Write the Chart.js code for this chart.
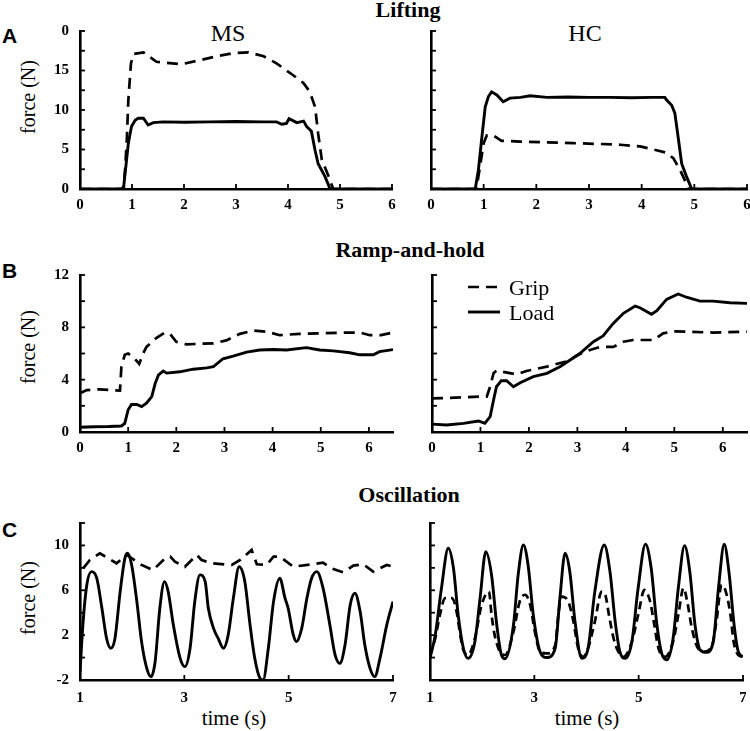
<!DOCTYPE html>
<html>
<head>
<meta charset="utf-8">
<script src="https://cdn.jsdelivr.net/npm/chart.js@4.4.1/dist/chart.umd.min.js"></script>
<style>
  body { margin: 0; width: 750px; height: 731px; background: #fff; position: relative; overflow: hidden; font-family: "Liberation Serif", serif; }
  canvas { position: absolute; }
  .t { position: absolute; white-space: nowrap; color: #000; line-height: 1; transform: translateX(-50%); }
  .head { font-weight: bold; font-size: 22px; }
  .grp { font-size: 24px; }
  .ylab { position: absolute; white-space: nowrap; font-size: 20px; line-height: 1; transform: translate(-50%, -50%) rotate(-90deg); }
  .xlab { position: absolute; white-space: nowrap; font-size: 21px; line-height: 1; transform: translate(-50%, -50%); }
  .letter { position: absolute; left: 2px; font-family: "Liberation Sans", Arial, sans-serif; font-weight: bold; font-size: 21px; line-height: 1; }
</style>
</head>
<body>
<div class="t head" style="left:408px;top:-1px">Lifting</div>
<div class="t head" style="left:410px;top:239px">Ramp-and-hold</div>
<div class="t head" style="left:409px;top:484px">Oscillation</div>
<div class="t grp" style="left:228px;top:21px">MS</div>
<div class="t grp" style="left:585px;top:21px">HC</div>
<div class="letter" style="top:25px">A</div>
<div class="letter" style="top:260px">B</div>
<div class="letter" style="top:519px">C</div>
<div class="ylab" style="left:28px;top:97px">force (N)</div>
<div class="ylab" style="left:28px;top:347px">force (N)</div>
<div class="ylab" style="left:28px;top:598px">force (N)</div>
<div class="xlab" style="left:234px;top:718px">time (s)</div>
<div class="xlab" style="left:587px;top:718px">time (s)</div>

<canvas id="aL"></canvas>
<canvas id="aR"></canvas>
<canvas id="bL"></canvas>
<canvas id="bR"></canvas>
<canvas id="cL"></canvas>
<canvas id="cR"></canvas>

<script>
// ---- A: lifting ----
const liftMsLoadT = [0, 0.5, 0.8, 0.84, 0.93, 0.99, 1.06, 1.12, 1.22, 1.31, 1.41, 1.6, 2.0, 2.5, 3.0, 3.5, 3.78, 3.88, 3.97, 4.02, 4.17, 4.3, 4.36, 4.45, 4.52, 4.58, 4.71, 4.81, 5.2, 6];
const liftMsLoad  = [0, 0, 0, 0.3, 5.8, 7.9, 8.7, 8.95, 8.95, 8.1, 8.4, 8.5, 8.45, 8.5, 8.55, 8.5, 8.5, 8.2, 8.3, 8.9, 8.4, 8.6, 7.9, 7.3, 4.9, 3.2, 1.6, 0, 0, 0];
const liftMsGripT = [0, 0.5, 0.84, 0.87, 0.9, 0.93, 0.98, 1.03, 1.22, 1.47, 1.96, 2.3, 2.63, 2.95, 3.24, 3.53, 3.78, 4.1, 4.3, 4.42, 4.52, 4.58, 4.65, 4.78, 4.87, 5.3, 6];
const liftMsGrip  = [0, 0, 0, 2.8, 6.2, 11.3, 15.9, 17.1, 17.3, 16.1, 15.8, 16.3, 16.8, 17.2, 17.3, 16.8, 15.9, 14.4, 13.4, 12.3, 10.4, 7.0, 3.7, 1.6, 0, 0, 0];
const liftHcLoadT = [0, 0.5, 0.84, 0.9, 0.96, 1.03, 1.09, 1.15, 1.25, 1.37, 1.5, 1.7, 1.88, 2.2, 2.6, 3.0, 3.4, 3.8, 4.2, 4.44, 4.47, 4.57, 4.63, 4.7, 4.76, 4.85, 4.95, 5.3, 6];
const liftHcLoad  = [0, 0, 0, 2.4, 6.2, 10.4, 11.7, 12.3, 11.9, 11.05, 11.5, 11.6, 11.8, 11.6, 11.65, 11.6, 11.6, 11.55, 11.6, 11.6, 11.3, 10.6, 9.6, 6.2, 3.2, 1.6, 0, 0, 0];
const liftHcGripT = [0, 0.5, 0.86, 0.93, 1.0, 1.06, 1.18, 1.34, 1.69, 2.2, 2.7, 3.2, 3.59, 3.97, 4.28, 4.47, 4.6, 4.73, 4.82, 4.89, 5.3, 6];
const liftHcGrip  = [0, 0, 0, 2.8, 5.8, 6.8, 6.8, 6.1, 6.0, 5.9, 5.8, 5.7, 5.6, 5.4, 4.9, 4.6, 3.9, 2.4, 1.1, 0, 0, 0];

// ---- B: ramp-and-hold ----
const rampMsGripT = [0, 0.14, 0.4, 0.83, 0.86, 0.93, 1.0, 1.1, 1.23, 1.31, 1.38, 1.59, 1.76, 1.87, 2.0, 2.21, 2.77, 3.04, 3.32, 3.6, 3.87, 4.15, 4.56, 4.98, 5.53, 5.81, 6.02, 6.25, 6.5];
const rampMsGrip  = [2.96, 3.2, 3.26, 3.16, 5.0, 5.9, 6.0, 5.75, 5.2, 6.0, 6.5, 7.2, 7.6, 7.5, 6.9, 6.7, 6.78, 7.0, 7.5, 7.75, 7.67, 7.4, 7.5, 7.54, 7.6, 7.6, 7.4, 7.4, 7.6];
const rampMsLoadT = [0, 0.3, 0.6, 0.86, 0.93, 1.0, 1.07, 1.18, 1.28, 1.38, 1.49, 1.56, 1.63, 1.73, 1.8, 2.07, 2.35, 2.63, 2.77, 2.97, 3.18, 3.46, 3.73, 4.01, 4.29, 4.7, 4.98, 5.26, 5.6, 5.81, 6.09, 6.22, 6.5];
const rampMsLoad  = [0.36, 0.4, 0.42, 0.46, 0.66, 1.7, 2.1, 2.1, 1.94, 2.2, 2.7, 3.7, 4.36, 4.66, 4.5, 4.6, 4.8, 4.9, 5.0, 5.6, 5.8, 6.1, 6.27, 6.3, 6.27, 6.45, 6.27, 6.2, 6.06, 5.9, 5.9, 6.14, 6.3];
const rampHcGripT = [0, 0.3, 0.99, 1.13, 1.2, 1.27, 1.33, 1.47, 1.75, 1.95, 2.37, 2.78, 3.05, 3.26, 3.47, 3.74, 3.95, 4.15, 4.57, 4.77, 4.98, 5.8, 6.5];
const rampHcGrip  = [2.57, 2.6, 2.7, 2.7, 3.47, 4.5, 4.7, 4.6, 4.4, 4.66, 5.0, 5.4, 5.96, 6.27, 6.5, 6.5, 6.9, 7.03, 7.03, 7.54, 7.7, 7.6, 7.67];
const rampHcLoadT = [0, 0.3, 0.65, 0.96, 1.09, 1.2, 1.27, 1.33, 1.43, 1.54, 1.68, 1.82, 2.09, 2.37, 2.64, 2.85, 3.05, 3.33, 3.53, 3.74, 3.95, 4.19, 4.29, 4.53, 4.64, 4.84, 5.08, 5.25, 5.53, 5.8, 6.15, 6.5];
const rampHcLoad  = [0.6, 0.53, 0.66, 0.84, 0.66, 1.17, 2.45, 3.46, 3.92, 3.92, 3.46, 3.77, 4.23, 4.48, 4.99, 5.5, 6.0, 6.9, 7.34, 8.3, 9.07, 9.63, 9.5, 9.0, 9.27, 10.14, 10.55, 10.3, 10.0, 10.0, 9.88, 9.83];

// ---- C: oscillation ----
const oscMsLoadT = [1.0, 1.06, 1.13, 1.22, 1.32, 1.42, 1.51, 1.59, 1.67, 1.77, 1.86, 1.91, 1.99, 2.09, 2.18, 2.28, 2.36, 2.44, 2.53, 2.62, 2.69, 2.79, 2.92, 3.01, 3.11, 3.2, 3.3, 3.4, 3.46, 3.56, 3.65, 3.75, 3.84, 3.94, 4.05, 4.16, 4.26, 4.35, 4.45, 4.51, 4.61, 4.71, 4.83, 4.93, 4.99, 5.09, 5.15, 5.25, 5.35, 5.44, 5.54, 5.66, 5.79, 5.89, 5.98, 6.08, 6.18, 6.27, 6.37, 6.46, 6.56, 6.65, 6.75, 6.88, 7.0];
const oscMsLoad  = [-1.26, 3.2, 6.47, 7.66, 7.1, 4.4, 1.7, 0.83, 1.7, 5.88, 8.85, 9.3, 8.26, 4.99, 1.42, -0.96, -1.7, -0.37, 4.4, 6.77, 5.88, 2.9, -0.07, -0.81, 0.83, 4.99, 7.37, 6.77, 4.4, 2.6, 1.7, 0.83, 2.0, 5.3, 8.1, 6.77, 2.9, -0.07, -1.85, -2.0, 0.83, 4.99, 7.07, 5.3, 4.4, 2.0, 1.42, 2.6, 5.3, 7.07, 7.66, 6.17, 2.9, 0.23, -0.52, 1.12, 4.7, 5.73, 4.1, 1.12, -0.96, -1.7, -0.07, 2.9, 4.99];
const oscMsGripT = [1.06, 1.19, 1.38, 1.7, 1.9, 2.18, 2.4, 2.63, 2.73, 2.82, 3.01, 3.24, 3.33, 3.52, 3.91, 4.07, 4.29, 4.39, 4.58, 4.71, 4.83, 5.09, 5.44, 5.66, 5.82, 6.05, 6.24, 6.43, 6.62, 6.88, 7.0];
const oscMsGrip  = [7.96, 8.7, 9.3, 8.41, 9.15, 8.26, 7.8, 8.85, 9.0, 8.55, 8.1, 9.15, 8.7, 8.41, 8.26, 8.7, 9.6, 8.32, 8.26, 9.0, 9.0, 8.1, 8.32, 8.47, 7.96, 7.6, 8.2, 8.32, 7.66, 8.26, 8.1];
const oscHcLoadT = [1.0, 1.1, 1.22, 1.35, 1.45, 1.54, 1.64, 1.73, 1.86, 1.96, 2.07, 2.18, 2.28, 2.37, 2.44, 2.6, 2.69, 2.79, 2.88, 2.98, 3.11, 3.24, 3.4, 3.49, 3.59, 3.68, 3.78, 3.91, 4.03, 4.16, 4.34, 4.45, 4.55, 4.64, 4.74, 4.87, 4.99, 5.13, 5.24, 5.35, 5.44, 5.54, 5.66, 5.76, 5.88, 5.98, 6.08, 6.18, 6.3, 6.43, 6.53, 6.64, 6.73, 6.83, 6.91, 7.0];
const oscHcLoad  = [-0.07, 2.0, 6.2, 9.75, 7.96, 3.8, 0.83, -0.07, 1.42, 5.3, 9.45, 7.37, 2.9, 0.23, -0.1, 2.9, 7.37, 10.04, 8.26, 3.8, 0.52, 0.0, 0.83, 5.3, 9.3, 7.66, 3.2, -0.07, 0.83, 5.9, 10.04, 7.66, 3.2, 0.52, -0.07, 1.42, 6.2, 10.1, 7.96, 2.9, 0.4, -0.2, 1.7, 6.2, 9.98, 7.66, 2.9, 0.67, 0.46, 1.42, 6.2, 10.1, 7.66, 2.9, 0.52, 0.07];
const oscHcGripT = [1.0, 1.1, 1.19, 1.29, 1.42, 1.51, 1.58, 1.64, 1.73, 1.86, 1.99, 2.13, 2.18, 2.24, 2.34, 2.44, 2.6, 2.72, 2.82, 2.92, 3.01, 3.11, 3.24, 3.4, 3.46, 3.52, 3.65, 3.75, 3.84, 3.94, 4.03, 4.16, 4.29, 4.36, 4.43, 4.52, 4.61, 4.71, 4.87, 4.99, 5.11, 5.22, 5.29, 5.38, 5.51, 5.66, 5.76, 5.86, 5.93, 6.02, 6.12, 6.25, 6.4, 6.49, 6.59, 6.67, 6.76, 6.82, 6.91, 7.0];
const oscHcGrip  = [0.23, 1.7, 3.8, 5.3, 5.3, 4.1, 2.0, 0.67, 0.23, 1.7, 4.7, 5.88, 3.8, 2.0, 0.52, 0.23, 2.3, 5.0, 5.6, 4.7, 2.3, 0.52, 0.37, 1.1, 3.8, 5.44, 5.0, 3.2, 0.83, 0.07, 0.83, 3.2, 5.88, 5.6, 3.8, 1.7, 0.52, 0.07, 1.42, 3.8, 6.03, 5.0, 3.2, 0.83, 0.07, 1.42, 3.8, 6.2, 5.0, 2.6, 0.98, 0.52, 0.98, 3.2, 6.5, 5.88, 3.8, 1.42, 0.23, 0.07];

// ticks
const xTicksA = [0, 1, 2, 3, 4, 5, 6];
const xTicksB = [0, 1, 2, 3, 4, 5, 6];
const xTicksC = [1, 3, 5, 7];
const yTicksA = [0, 2.5, 5, 7.5, 10, 12.5, 15, 17.5, 20];
const yLabelsA = ['0', '', '5', '', '10', '', '15', '', '0'];
const yTicksB = [0, 2, 4, 6, 8, 10, 12];
const yLabelsB = ['0', '', '4', '', '8', '', '12'];
const yTicksC = [-2, 0, 2, 4, 6, 8, 10, 12];
const yLabelsC = ['-2', '', '2', '', '6', '', '10', ''];

const tickFont = { family: 'Liberation Serif', size: 15, weight: 'bold' };

function pts(t, v) { return t.map((x, i) => ({ x: x, y: v[i] })); }

const inwardTicks = {
  id: 'inwardTicks',
  afterDraw(chart) {
    const { ctx, chartArea: a, scales } = chart;
    ctx.save();
    ctx.strokeStyle = '#000';
    ctx.lineWidth = 1.8;
    scales.x.ticks.forEach(t => {
      const p = scales.x.getPixelForValue(t.value);
      ctx.beginPath(); ctx.moveTo(p, a.bottom); ctx.lineTo(p, a.bottom - 5); ctx.stroke();
    });
    scales.y.ticks.forEach(t => {
      const p = scales.y.getPixelForValue(t.value);
      ctx.beginPath(); ctx.moveTo(a.left, p); ctx.lineTo(a.left + 5, p); ctx.stroke();
    });
    ctx.restore();
  }
};

// Grip / Load key in the right ramp panel
const lineKey = {
  id: 'lineKey',
  afterDraw(chart) {
    if (!chart.options.plugins.lineKey || !chart.options.plugins.lineKey.show) return;
    const { ctx, chartArea: a } = chart;
    ctx.save();
    ctx.font = '22px "Liberation Serif"';
    ctx.textBaseline = 'middle';
    ctx.fillStyle = '#000';
    chart.data.datasets.forEach((ds, i) => {
      const y = a.top + 12 + i * 25;
      ctx.strokeStyle = '#000';
      ctx.lineWidth = ds.borderWidth;
      ctx.setLineDash(ds.borderDash || []);
      ctx.beginPath(); ctx.moveTo(a.left + 36, y); ctx.lineTo(a.left + 68, y); ctx.stroke();
      ctx.fillText(ds.label, a.left + 77, y + 2);
    });
    ctx.restore();
  }
};

function panel(id, box, xMin, xMax, xTicks, showXLabels, yMin, yMax, yTicks, yLabels, sets, keyOn) {
  const cv = document.getElementById(id);
  const padL = 40, padT = 12, padB = 26;
  const padR = box.r > 740 ? 3 : 12;
  const w = box.r - box.l + padL + padR, h = box.b - box.t + padT + padB;
  cv.width = w; cv.height = h;
  cv.style.width = w + 'px'; cv.style.height = h + 'px';
  cv.style.left = (box.l - padL) + 'px'; cv.style.top = (box.t - padT) + 'px';

  new Chart(cv, {
    type: 'line',
    data: { datasets: sets },
    options: {
      responsive: false,
      animation: false,
      devicePixelRatio: 1,
      layout: { padding: { left: 0, top: padT, right: padR, bottom: 0 } },
      plugins: { legend: { display: false }, tooltip: { enabled: false }, lineKey: { show: !!keyOn } },
      elements: { point: { radius: 0 } },
      scales: {
        x: {
          type: 'linear', min: xMin, max: xMax,
          afterBuildTicks: s => { s.ticks = xTicks.map(v => ({ value: v })); },
          afterFit: s => { s.height = padB; s.paddingLeft = 0; s.paddingRight = 0; },
          grid: { display: false, drawTicks: false },
          border: { display: true, color: '#000', width: 2.6 },
          ticks: { autoSkip: false, maxRotation: 0, padding: box.pad, color: '#000', font: tickFont,
                   callback: (v, i) => showXLabels ? String(xTicks[i]) : '' }
        },
        y: {
          type: 'linear', min: yMin, max: yMax,
          afterBuildTicks: s => { s.ticks = yTicks.map(v => ({ value: v })); },
          afterFit: s => { s.width = padL; s.paddingTop = 0; s.paddingBottom = 0; },
          grid: { display: false, drawTicks: false },
          border: { display: true, color: '#000', width: 2.6 },
          ticks: { autoSkip: false, padding: 11, color: '#000', font: tickFont,
                   callback: (v, i) => yLabels ? yLabels[i] : '' }
        }
      }
    },
    plugins: [inwardTicks, lineKey]
  });
}

function grip(t, v, dash, smooth) {
  return { label: 'Grip', data: pts(t, v), borderColor: '#000', borderWidth: 2.7, borderDash: dash, fill: false,
           tension: smooth ? 0.3 : 0, cubicInterpolationMode: smooth ? 'monotone' : 'default' };
}
function load(t, v, smooth) {
  return { label: 'Load', data: pts(t, v), borderColor: '#000', borderWidth: 2.9, fill: false,
           tension: smooth ? 0.3 : 0, cubicInterpolationMode: smooth ? 'monotone' : 'default' };
}

panel('aL', { l: 80, t: 31, r: 392, b: 189, pad: 7 }, 0, 6, xTicksA, true, 0, 20, yTicksA, yLabelsA,
      [grip(liftMsGripT, liftMsGrip, [11, 7]), load(liftMsLoadT, liftMsLoad)]);
panel('aR', { l: 431, t: 31, r: 747, b: 189, pad: 7 }, 0, 6, xTicksA, true, 0, 20, yTicksA, null,
      [grip(liftHcGripT, liftHcGrip, [11, 7]), load(liftHcLoadT, liftHcLoad)]);
panel('bL', { l: 80, t: 275, r: 393, b: 432, pad: 7 }, 0, 6.5, xTicksB, true, 0, 12, yTicksB, yLabelsB,
      [grip(rampMsGripT, rampMsGrip, [11, 7]), load(rampMsLoadT, rampMsLoad)]);
panel('bR', { l: 432, t: 275, r: 747, b: 432, pad: 7 }, 0, 6.5, xTicksB, true, 0, 12, yTicksB, null,
      [grip(rampHcGripT, rampHcGrip, [11, 7]), load(rampHcLoadT, rampHcLoad)], true);
panel('cL', { l: 80, t: 523, r: 393, b: 680, pad: 9 }, 1, 7, xTicksC, true, -2, 12, yTicksC, yLabelsC,
      [grip(oscMsGripT, oscMsGrip, [11, 7]), load(oscMsLoadT, oscMsLoad, true)]);
panel('cR', { l: 430, t: 523, r: 743, b: 680, pad: 9 }, 1, 7, xTicksC, true, -2, 12, yTicksC, null,
      [grip(oscHcGripT, oscHcGrip, [8, 5], true), load(oscHcLoadT, oscHcLoad, true)]);
</script>
</body>
</html>
